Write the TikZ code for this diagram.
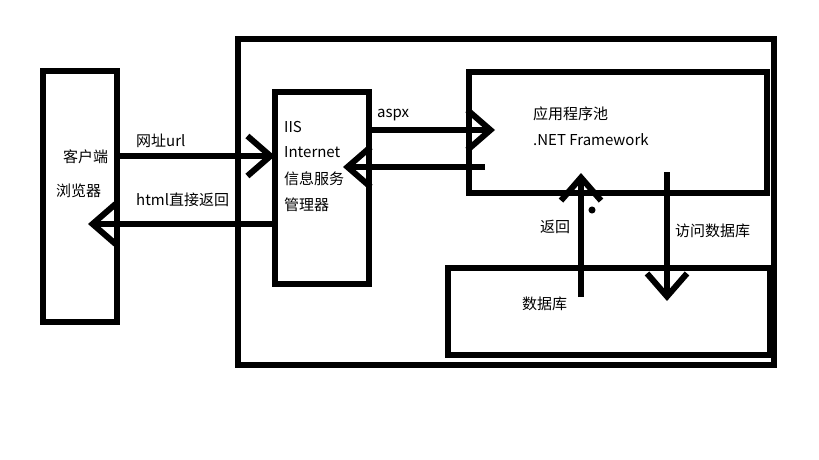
\documentclass[tikz,border=0pt]{standalone}
\usepackage{fontspec}
\setmainfont{Noto Sans CJK SC}
\usetikzlibrary{positioning, arrows.meta, calc}

\begin{document}
\begin{tikzpicture}[x=1pt, y=-1pt,
    box/.style={draw, line width=6pt, inner sep=0pt, outer sep=0pt, rectangle},
    conn/.style={line width=6pt, -{Straight Barb[length=23pt, width=40pt]}},
    lbl/.style={anchor=west, inner sep=0pt, font=\fontsize{15}{17}\selectfont}]
    \useasboundingbox (0,0) rectangle (819,460);
    % Caixas
    \node[box, minimum width=74pt, minimum height=251pt] (client) at (80,196.5) {};
    \node[box, minimum width=536pt, minimum height=326pt] (server) at (506,202) {};
    \node[box, minimum width=94pt, minimum height=192pt] (iis) at (322,188) {};
    \node[box, minimum width=298pt, minimum height=121pt] (pool) at (618,132.5) {};
    \node[box, minimum width=322pt, minimum height=87pt] (db) at (609,311.5) {};
    % Textos
    \node[lbl] (kh) at (63,157) {客户端};
    \node[lbl] (llq) at (56,191) {浏览器};
    \node[lbl] (url) at (136,141) {网址url};
    \node[lbl] (html) at (136,200) {html直接返回};
    \node[lbl] (iist) at (284,127) {IIS};
    \node[lbl] (inet) at (284,152) {Internet};
    \node[lbl] (xxfw) at (284,179) {信息服务};
    \node[lbl] (glq) at (284,205) {管理器};
    \node[lbl] (aspx) at (377,115) {aspx};
    \node[lbl] (yycx) at (533,114) {应用程序池};
    \node[lbl] (net) at (533,140) {.NET Framework};
    \node[lbl] (fh) at (540,227) {返回};
    \node[lbl] (fwsjk) at (675,231) {访问数据库};
    \node[lbl] (sjk) at (522,304) {数据库};
    \node[circle, fill, inner sep=2.5pt] (dot) at (592,210) {};
    % Pontas das setas
    \coordinate (htmlEnd) at (88,224);
    \coordinate (aspxEnd) at (495,130);
    \coordinate (backStart) at (485,167);
    \coordinate (backEnd) at (343,167);
    \coordinate (upStart) at (581,297);
    \coordinate (upEnd) at (581,173);
    \coordinate (downStart) at (667,172);
    \coordinate (downEnd) at (667,301);
    % Setas
    \draw[conn] (client.east |- 0,156) -- (iis.west |- 0,156);
    \draw[conn] (iis.west |- htmlEnd) -- (htmlEnd);
    \draw[conn] (iis.east |- aspxEnd) -- (aspxEnd);
    \draw[conn] (backStart) -- (backEnd);
    \draw[conn] (upStart) -- (upEnd);
    \draw[conn] (downStart) -- (downEnd);
\end{tikzpicture}
\end{document}
